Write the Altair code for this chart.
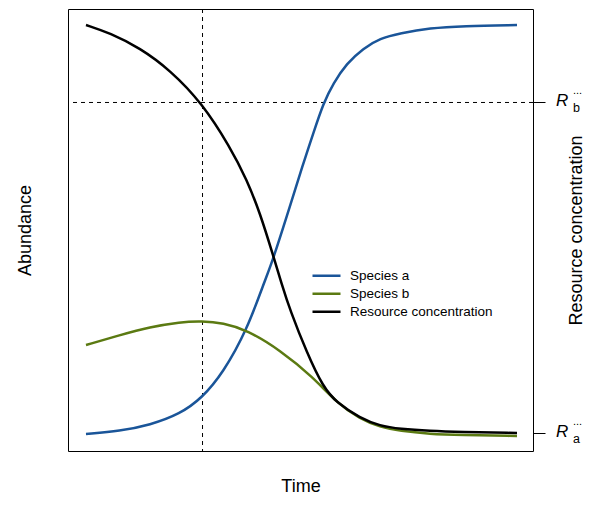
import altair as alt
import pandas as pd

series_names = ["Species a", "Species b", "Resource concentration"]
series_colors = ["#1a5599", "#5b7a12", "#000000"]

time_a = [3.87, 11.18, 17.63, 24.09, 28.82, 33.33, 38.49, 42.37, 43.81, 47.03,
          50.60, 52.75, 54.90, 57.05, 59.94, 63.51, 67.10, 71.40, 77.85, 84.95, 96.56]
abund_a = [3.85, 4.52, 5.88, 8.37, 11.99, 17.65, 27.38, 38.69, 42.47, 53.01,
           65.09, 71.88, 78.67, 83.19, 87.71, 91.11, 93.37, 94.50, 95.70, 96.15, 96.38]

time_b = [3.87, 11.18, 17.63, 24.09, 28.82, 33.33, 38.49, 45.59, 52.69, 57.85,
          62.80, 67.10, 71.40, 77.85, 84.30, 96.56]
abund_b = [23.98, 26.24, 28.05, 29.19, 29.41, 28.96, 27.38, 22.85, 16.74, 10.86,
           7.24, 5.43, 4.52, 3.85, 3.62, 3.39]

time_r = [3.87, 9.03, 15.48, 21.94, 28.82, 34.84, 38.49, 41.29, 44.09, 45.96,
          47.74, 51.40, 54.84, 57.85, 62.80, 67.10, 71.40, 77.85, 84.30, 96.56]
conc_r = [96.38, 94.57, 91.18, 86.20, 78.73, 68.78, 61.31, 53.85, 44.34, 37.78,
          31.90, 22.17, 14.48, 10.86, 7.47, 5.66, 4.98, 4.52, 4.30, 4.07]

r_levels = [3.96, 78.85]   # R_a*, R_b*
r_subs = ["a", "b"]
t_cross = 28.93            # time where resource reaches R_b*

FONT = "Liberation Sans"

df = pd.concat([
    pd.DataFrame({"time": time_a, "value": abund_a, "series": series_names[0]}),
    pd.DataFrame({"time": time_b, "value": abund_b, "series": series_names[1]}),
    pd.DataFrame({"time": time_r, "value": conc_r, "series": series_names[2]}),
], ignore_index=True)

df_r = pd.DataFrame({"r": r_levels, "R": ["R", "R"], "sub": r_subs, "sup": ["...", "..."]})
df_t = pd.DataFrame({"t": [t_cross]})
df_h = pd.DataFrame({"r": [r_levels[1]]})

xscale = alt.Scale(domain=[0, 100], nice=False, zero=False)
yscale = alt.Scale(domain=[0, 100], nice=False, zero=False)

x_axis = alt.Axis(title="Time", labels=False, ticks=False, domain=False, grid=False,
                  titleY=35, titleBaseline="middle")
left_axis = alt.Axis(title="Abundance", orient="left", labels=False, ticks=False,
                     domain=False, grid=False, titleX=-43, titleY=221, titleAngle=270,
                     titleBaseline="middle", titleAlign="center")
right_axis = alt.Axis(title="Resource concentration", orient="right", values=r_levels,
                      labels=False, ticks=True, tickSize=12, tickColor="black", tickWidth=1,
                      domain=False, grid=False, titleX=43, titleY=221, titleAngle=270,
                      titleBaseline="middle", titleAlign="center")

color = alt.Color("series:N", scale=alt.Scale(domain=series_names, range=series_colors),
                  legend=alt.Legend(title=None, orient="none", legendX=243, legendY=259,
                                    symbolType="stroke", symbolSize=784,
                                    symbolStrokeWidth=2.5, labelFontSize=13.5,
                                    labelFont=FONT, labelOffset=8, padding=0,
                                    clipHeight=15.5, rowPadding=2, labelColor="black"))

line_layers = []
for i, s in enumerate(series_names):
    line_layers.append(
        alt.Chart(df).transform_filter(alt.datum.series == s)
        .mark_line(strokeWidth=2.5, interpolate="basis")
        .encode(
            x=alt.X("time:Q", scale=xscale, axis=x_axis),
            y=alt.Y("value:Q", scale=yscale, axis=left_axis if i == 0 else None),
            color=color,
        )
    )

vrule = alt.Chart(df_t).mark_rule(color="black", strokeWidth=1, strokeDash=[4, 4]).encode(
    x=alt.X("t:Q", scale=xscale, axis=x_axis))
hrule = alt.Chart(df_h).mark_rule(color="black", strokeWidth=1, strokeDash=[4, 4]).encode(
    y=alt.Y("r:Q", scale=yscale, axis=None))

r_main = alt.Chart(df_r).mark_text(align="left", baseline="alphabetic", fontSize=17,
                                   fontStyle="italic", font=FONT, dy=4, color="black").encode(
    x=alt.value(488), y=alt.Y("r:Q", scale=yscale, axis=right_axis), text="R:N")
r_sub = alt.Chart(df_r).mark_text(align="left", baseline="alphabetic", fontSize=12.5,
                                  font=FONT, dy=10, color="black").encode(
    x=alt.value(505), y=alt.Y("r:Q", scale=yscale, axis=None), text="sub:N")
r_sup = alt.Chart(df_r).mark_text(align="left", baseline="alphabetic", fontSize=11,
                                  font=FONT, dy=-8, color="black").encode(
    x=alt.value(505), y=alt.Y("r:Q", scale=yscale, axis=None), text="sup:N")

chart = alt.layer(vrule, hrule, *line_layers, r_main, r_sub, r_sup).resolve_axis(
    y="independent"
).properties(
    width=465, height=442,
    autosize=alt.AutoSizeParams(type="none"),
    padding={"left": 60, "top": 1, "right": 51, "bottom": 45},
    background="white",
).configure_view(
    stroke="black", strokeWidth=1
).configure_axis(
    titleFont=FONT, titleFontSize=18, titleFontWeight="normal", titleColor="black"
)

chart.save("out.html", embed_options={"renderer": "svg", "actions": False})
